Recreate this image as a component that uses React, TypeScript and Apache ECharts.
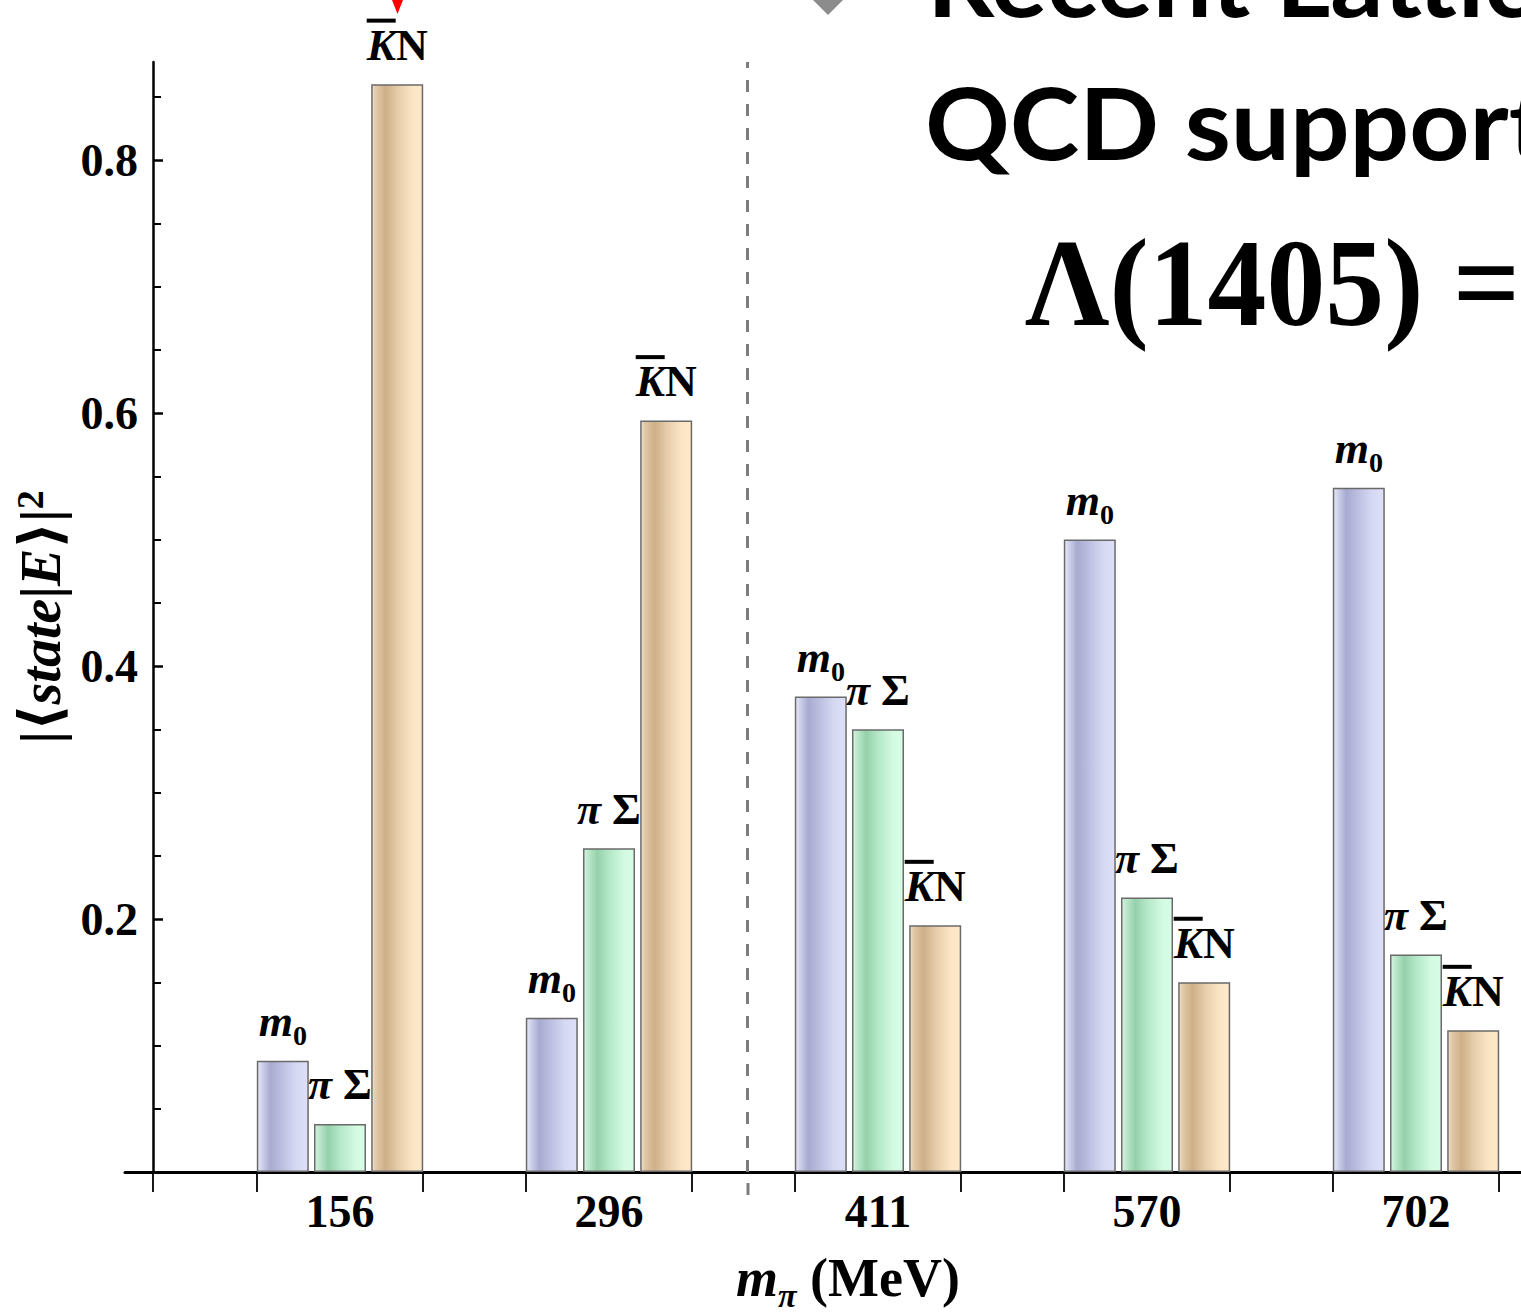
import React, { useEffect, useRef } from 'react';
import * as echarts from 'echarts';

// ---- data ----
const MPI_LABELS = ['156', '296', '411', '570', '702'];
const M0 = [0.088, 0.122, 0.376, 0.5, 0.541];
const PI_SIGMA = [0.038, 0.256, 0.35, 0.217, 0.172];
const KBAR_N = [0.86, 0.594, 0.195, 0.15, 0.112];
const Y_TICKS = [0.2, 0.4, 0.6, 0.8];
const Y_MAX = 0.8775;
const SEPARATOR_AT = 2.212; // dashed separator, in group units

// ---- layout ----
const W = 1521;
const H = 1313;
const GRID_LEFT = 125;
const AXIS_X = 153;
const GROUP_STEP = 269;
const FIRST_CENTER = (340 - AXIS_X) / GROUP_STEP;
const BAR_W = 52;
const X_MIN = (GRID_LEFT - AXIS_X) / GROUP_STEP;
const X_MAX = (W - AXIS_X) / GROUP_STEP;
const HALF_GROUP = (3 * BAR_W + 2 * 0.1 * BAR_W) / 2 / GROUP_STEP;

const SERIF = '"Liberation Serif", "Times New Roman", "DejaVu Serif", serif';
const SANS = 'Lato, "Open Sans", "Liberation Sans", sans-serif';
const LF = 44;

const centers = MPI_LABELS.map((_, i) => FIRST_CENTER + i);
const tickVals = [0];
centers.forEach((c) => {
  tickVals.push(c - HALF_GROUP, c + HALF_GROUP);
});

const labelRich = {
  i: { fontFamily: SERIF, fontStyle: 'italic', fontWeight: 'bold', fontSize: LF, color: '#000', lineHeight: LF },
  u: { fontFamily: SERIF, fontWeight: 'bold', fontSize: LF, color: '#000', lineHeight: LF },
  sub: { fontFamily: SERIF, fontWeight: 'bold', fontSize: 28, color: '#000', height: 16, verticalAlign: 'bottom' },
  ob: { width: 29, height: 4, lineHeight: 5, backgroundColor: '#000' },
  sp: { width: 32, height: 4, lineHeight: 5 },
};

function grad(stops: [number, string][]) {
  return new echarts.graphic.LinearGradient(
    0, 0, 1, 0,
    stops.map(([offset, color]) => ({ offset, color }))
  );
}

const M0_FILL = grad([
  [0, '#e9ebf8'], [0.07, '#d3d6ee'], [0.25, '#a8abd0'], [0.45, '#b9bcde'], [0.75, '#d5d8f2'], [1, '#dde0f7'],
]);
const PS_FILL = grad([
  [0, '#dcf6e5'], [0.07, '#c0eacf'], [0.27, '#95d1ab'], [0.5, '#b4e7c7'], [0.8, '#d3fae2'], [1, '#d8fde6'],
]);
const KN_FILL = grad([
  [0, '#f3e4ce'], [0.07, '#e2c9a8'], [0.27, '#ceaf88'], [0.5, '#e5cba9'], [0.8, '#fbe5c5'], [1, '#ffe9ca'],
]);

function barSeries(name: string, values: number[], fill: any, labelText: string, extra: any = {}) {
  return {
    type: 'bar',
    name,
    barWidth: BAR_W,
    barGap: '10%',
    data: values.map((v, i) => [centers[i], v]),
    itemStyle: { color: fill, borderColor: '#6a6a6a', borderWidth: 1.5 },
    label: {
      show: true,
      position: 'top',
      distance: 17,
      formatter: labelText,
      rich: labelRich,
    },
    ...extra,
  };
}

export default function App() {
  const ref = useRef<HTMLDivElement>(null);

  useEffect(() => {
    document.body.style.margin = '0';
    document.body.style.overflow = 'hidden';
    if (!ref.current) return;
    const chart = echarts.init(ref.current, undefined, { renderer: 'svg' });

    const option: any = {
      animation: false,
      backgroundColor: '#ffffff',
      grid: {
        left: GRID_LEFT,
        right: 0,
        top: 62,
        bottom: H - 1172,
        containLabel: false,
        outerBoundsMode: 'none',
      },
      xAxis: {
        type: 'value',
        min: X_MIN,
        max: X_MAX,
        axisLine: { show: true, onZero: true, lineStyle: { color: '#000', width: 3 } },
        axisTick: {
          show: true,
          customValues: tickVals,
          length: 20,
          lineStyle: { color: '#000', width: 1.8 },
        },
        axisLabel: {
          show: true,
          customValues: centers,
          formatter: (v: number) => MPI_LABELS[Math.round(v - FIRST_CENTER)] ?? '',
          fontFamily: SERIF,
          fontWeight: 'bold',
          fontSize: 46,
          color: '#000',
          margin: 16,
        },
        splitLine: { show: false },
        name: '{i|m}{sub|π}{u| (MeV)}',
        nameLocation: 'middle',
        nameGap: 78,
        nameTextStyle: {
          padding: [0, 0, 0, 50],
          rich: {
            i: { fontFamily: SERIF, fontStyle: 'italic', fontWeight: 'bold', fontSize: 54, color: '#000', lineHeight: 56 },
            u: { fontFamily: SERIF, fontWeight: 'bold', fontSize: 54, color: '#000', lineHeight: 56 },
            sub: { fontFamily: SERIF, fontStyle: 'italic', fontWeight: 'bold', fontSize: 34, color: '#000', height: 22, verticalAlign: 'bottom' },
          },
        },
      },
      yAxis: {
        type: 'value',
        min: 0,
        max: Y_MAX,
        interval: 0.2,
        axisLine: { show: true, onZero: true, lineStyle: { color: '#000', width: 2.5 } },
        axisTick: {
          show: true,
          inside: true,
          customValues: Y_TICKS,
          length: 10,
          lineStyle: { color: '#000', width: 2.5 },
        },
        minorTick: { show: true, splitNumber: 4, length: 8, lineStyle: { color: '#000', width: 2 } },
        axisLabel: {
          show: true,
          customValues: Y_TICKS,
          formatter: (v: number) => v.toFixed(1),
          fontFamily: SERIF,
          fontWeight: 'bold',
          fontSize: 46,
          color: '#000',
          margin: 15 - (AXIS_X - GRID_LEFT),
        },
        splitLine: { show: false },
        name: '{b||⟨}{i|state}{b||}{i|E}{b|⟩|}{sup|2}',
        nameLocation: 'middle',
        nameRotate: 90,
        nameGap: 48,
        nameTextStyle: {
          rich: {
            b: { fontFamily: SERIF, fontWeight: 'bold', fontSize: 58, color: '#000', lineHeight: 54 },
            i: { fontFamily: SERIF, fontStyle: 'italic', fontWeight: 'bold', fontSize: 56, color: '#000', lineHeight: 54 },
            sup: { fontFamily: SERIF, fontWeight: 'bold', fontSize: 38, color: '#000', height: 32, verticalAlign: 'top' },
          },
        },
      },
      series: [
        barSeries('m0', M0, M0_FILL, '{i|m}{sub|0}'),
        barSeries('πΣ', PI_SIGMA, PS_FILL, '{i|π }{u|Σ}', {
          markLine: {
            silent: true,
            symbol: ['none', 'none'],
            label: { show: false },
            lineStyle: { color: '#7d7d7d', width: 3, type: [12, 12] },
            data: [{ xAxis: SEPARATOR_AT }],
          },
        }),
        barSeries('K̄N', KBAR_N, KN_FILL, '{ob| }{sp| }\n{i|K}{u|N}'),
      ],
      graphic: [
        {
          type: 'polygon',
          shape: { points: [[392, 0], [403, 0], [397.5, 14]] },
          style: { fill: '#ff0000' },
          silent: true,
        },
        {
          type: 'polygon',
          shape: { points: [[798, -15], [828, 15], [858, -15], [828, -45]] },
          style: { fill: '#8c8c8c' },
          silent: true,
        },
        {
          type: 'line',
          shape: { x1: 748, y1: 1183, x2: 748, y2: 1195 },
          style: { stroke: '#7d7d7d', lineWidth: 3 },
          silent: true,
        },
        {
          type: 'text',
          x: 927,
          y: 17 - 39,
          scaleX: 1.05,
          style: {
            text: 'Recent Lattice',
            fontFamily: SANS,
            fontWeight: 'bold',
            fontSize: 100,
            fill: '#000',
            align: 'left',
            verticalAlign: 'middle',
          },
          silent: true,
        },
        {
          type: 'text',
          x: 925,
          y: 160 - 39,
          scaleX: 1.05,
          style: {
            text: 'QCD support',
            fontFamily: SANS,
            fontWeight: 'bold',
            fontSize: 100,
            fill: '#000',
            align: 'left',
            verticalAlign: 'middle',
          },
          silent: true,
        },
        {
          type: 'text',
          x: 1025,
          y: 325 - 42,
          scaleX: 0.95,
          style: {
            text: 'Λ(1405) =',
            fontFamily: SERIF,
            fontWeight: 'bold',
            fontSize: 124,
            fill: '#000',
            align: 'left',
            verticalAlign: 'middle',
          },
          silent: true,
        },
      ],
    };

    chart.setOption(option);
    return () => {
      chart.dispose();
    };
  }, []);

  return <div ref={ref} style={{ width: W, height: H }} />;
}
